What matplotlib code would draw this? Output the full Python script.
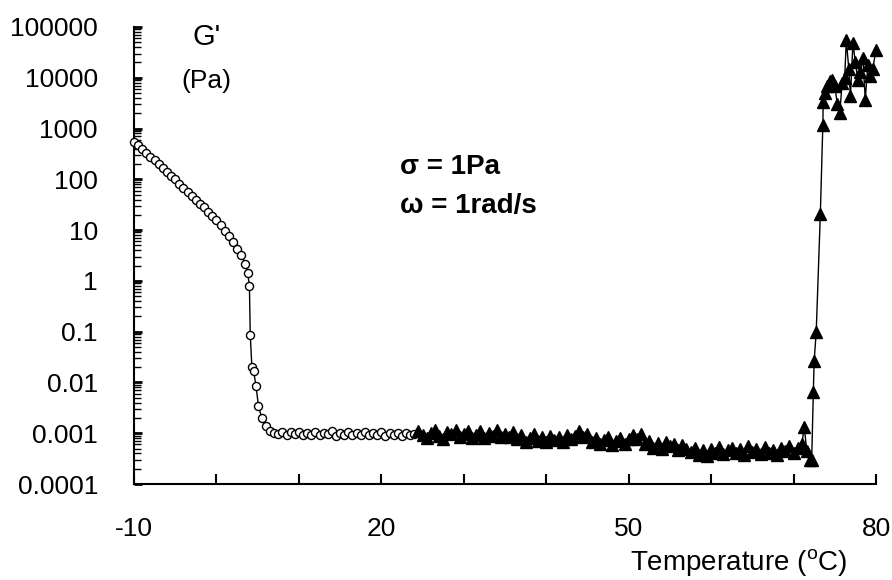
import matplotlib
matplotlib.use("Agg")
from matplotlib import pyplot as plt
from matplotlib.ticker import FixedLocator, FixedFormatter, LogLocator, NullFormatter

plt.rcParams['font.family'] = ['Liberation Sans', 'DejaVu Sans']
plt.rcParams['mathtext.fontset'] = 'custom'
plt.rcParams['mathtext.rm'] = 'Liberation Sans'
plt.rcParams['axes.unicode_minus'] = False

# open circles: first heating segment
temp_circles = [-10.0, -9.5, -9.0, -8.5, -8.0, -7.5, -7.0, -6.5, -6.0, -5.5,
                -5.0, -4.5, -4.0, -3.5, -3.0, -2.5, -2.0, -1.5, -1.0, -0.5,
                0.0, 0.5, 1.0, 1.5, 2.0, 2.5, 3.0, 3.5, 3.8, 4.0,
                4.1, 4.3, 4.5, 4.8, 5.1, 5.5, 6.0, 6.5, 7.0, 7.5,
                8.0, 8.5, 9.0, 9.5, 10.0, 10.5, 11.0, 11.5, 12.0, 12.5,
                13.0, 13.5, 14.0, 14.5, 15.0, 15.5, 16.0, 16.5, 17.0, 17.5,
                18.0, 18.5, 19.0, 19.5, 20.0, 20.5, 21.0, 21.5, 22.0, 22.5,
                23.0, 23.5, 24.0]
gp_circles = [550, 470, 400, 335, 280, 235, 200, 168, 140, 118,
              100, 82, 68, 56, 46, 39, 33, 28, 23, 19,
              16, 12.5, 9.8, 7.6, 5.8, 4.3, 3.2, 2.2, 1.4, 0.8,
              0.087, 0.02, 0.017, 0.0085, 0.0034, 0.002, 0.0014, 0.0011, 0.00102, 0.00096,
              0.00106, 0.00093, 0.00104, 0.00095, 0.00108, 0.00092, 0.00103, 0.00094, 0.00107, 0.00091,
              0.00102, 0.00095, 0.00109, 0.00090, 0.00103, 0.00093, 0.00106, 0.00092, 0.00102, 0.00094,
              0.00107, 0.00091, 0.00101, 0.00093, 0.00105, 0.00090, 0.00100, 0.00092, 0.00103, 0.00089,
              0.00099, 0.00091, 0.00098]

# filled triangles: second segment up to gelation
temp_triangles = [24.5, 25.0, 25.5, 26.0, 26.5, 27.0, 27.5, 28.0, 28.5, 29.0,
                  29.5, 30.0, 30.5, 31.0, 31.5, 32.0, 32.5, 33.0, 33.5, 34.0,
                  34.5, 35.0, 35.5, 36.0, 36.5, 37.0, 37.5, 38.0, 38.5, 39.0,
                  39.5, 40.0, 40.5, 41.0, 41.5, 42.0, 42.5, 43.0, 43.5, 44.0,
                  44.5, 45.0, 45.5, 46.0, 46.5, 47.0, 47.5, 48.0, 48.5, 49.0,
                  49.5, 50.0, 50.5, 51.0, 51.5, 52.0, 52.5, 53.0, 53.5, 54.0,
                  54.5, 55.0, 55.5, 56.0, 56.5, 57.0, 57.5, 58.0, 58.5, 59.0,
                  59.5, 60.0, 60.5, 61.0, 61.5, 62.0, 62.5, 63.0, 63.5, 64.0,
                  64.5, 65.0, 65.5, 66.0, 66.5, 67.0, 67.5, 68.0, 68.5, 69.0,
                  69.5, 70.0, 70.5, 71.0, 71.3, 71.6, 72.0, 72.2, 72.4, 72.5,
                  72.75, 73.25, 73.55, 73.6, 73.8, 74.1, 74.4, 74.7, 75.0, 75.3,
                  75.6, 75.9, 76.2, 76.4, 76.7, 76.9, 77.2, 77.5, 77.8, 78.1,
                  78.4, 78.7, 79.0, 79.3, 79.6, 80.0]
gp_triangles = [0.00112, 0.00092, 0.00080, 0.00100, 0.00115, 0.00088, 0.00078, 0.00104, 0.00096, 0.00118,
                0.00084, 0.00098, 0.00110, 0.00082, 0.00094, 0.00113, 0.00079, 0.00101, 0.00090, 0.00116,
                0.00083, 0.00097, 0.00085, 0.00106, 0.00078, 0.00092, 0.00068, 0.00082, 0.00095, 0.00070,
                0.00086, 0.00066, 0.00090, 0.00074, 0.00084, 0.00068, 0.00094, 0.00078, 0.00088, 0.00112,
                0.00086, 0.00098, 0.00068, 0.00082, 0.00060, 0.00074, 0.00084, 0.00058, 0.00071, 0.00080,
                0.00062, 0.00078, 0.00094, 0.00078, 0.00098, 0.00062, 0.00070, 0.00052, 0.00064, 0.00048,
                0.00068, 0.00055, 0.00062, 0.00046, 0.00058, 0.00050, 0.00042, 0.00052, 0.00038, 0.00046,
                0.00036, 0.00050, 0.00041, 0.00054, 0.00039, 0.00047, 0.00052, 0.00040, 0.00049, 0.00038,
                0.00055, 0.00043, 0.00048, 0.00039, 0.00053, 0.00041, 0.00046, 0.00038, 0.00051, 0.00044,
                0.00056, 0.00040, 0.00052, 0.00060, 0.00135, 0.00045, 0.00030, 0.00030, 0.0066, 0.027,
                0.1, 21, 1170, 3400, 5000, 7000, 8500, 9000, 7000, 3100,
                2000, 8000, 10000, 55000, 15000, 4300, 48000, 20000, 9000, 13000,
                25000, 3700, 18000, 11000, 15000, 35000]

y_ticks = [1e-4, 1e-3, 1e-2, 1e-1, 1, 10, 100, 1000, 10000, 100000]
y_tick_labels = ["0.0001", "0.001", "0.01", "0.1", "1", "10", "100", "1000", "10000", "100000"]
x_ticks = [-10, 20, 50, 80]
x_minor_ticks = [0, 10, 30, 40, 60, 70]

fig = plt.figure(figsize=(8.92, 5.8), dpi=100)
ax = fig.add_axes([134 / 892, 1 - 484 / 580, 742 / 892, 457 / 580])

# Add Data
ax.plot(temp_circles, gp_circles, color='black', lw=1, marker='o', ms=5.8,
        mfc='white', mec='black', mew=1, clip_on=False, zorder=3)
ax.plot(temp_triangles, gp_triangles, color='black', lw=1, marker='^', ms=8,
        mfc='black', mec='black', clip_on=False, zorder=3)

# Configure axes
ax.set_yscale('log')
ax.set_xlim(-10, 80)
ax.set_ylim(1e-4, 1e5)
for side in ['top', 'right']:
    ax.spines[side].set_visible(False)
for side in ['left', 'bottom']:
    ax.spines[side].set_linewidth(1.5)

ax.yaxis.set_major_locator(FixedLocator(y_ticks))
ax.yaxis.set_major_formatter(FixedFormatter(y_tick_labels))
ax.yaxis.set_minor_locator(LogLocator(base=10, subs=range(2, 10), numticks=20))
ax.yaxis.set_minor_formatter(NullFormatter())
ax.xaxis.set_major_locator(FixedLocator(x_ticks))
ax.xaxis.set_minor_locator(FixedLocator(x_minor_ticks))

ax.tick_params(axis='y', which='major', direction='in', length=6, width=2, pad=26, labelsize=19)
ax.tick_params(axis='y', which='minor', direction='in', length=5, width=1)
ax.tick_params(axis='x', which='both', direction='in', length=7, width=1.5, pad=24, labelsize=19)

# Labels
ax.text(0.962, -0.173, r'Temperature ($^{\rm o}$C)', transform=ax.transAxes,
        ha='right', va='center', fontsize=20)
fig.text(207 / 892, 1 - 37 / 580, "G'", ha='center', va='center', fontsize=21)
fig.text(206 / 892, 1 - 81 / 580, "(Pa)", ha='center', va='center', fontsize=19)
ax.text(0.358, 0.694, "σ = 1Pa", transform=ax.transAxes, ha='left', va='center',
        fontsize=20, fontweight='bold')
ax.text(0.358, 0.608, "ω = 1rad/s", transform=ax.transAxes, ha='left', va='center',
        fontsize=20, fontweight='bold')

plt.savefig('out.png', dpi=100)
plt.close()
